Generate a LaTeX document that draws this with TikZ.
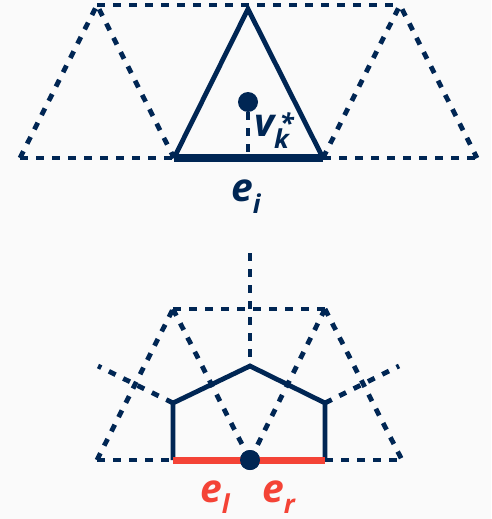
\documentclass[tikz,border=0pt]{standalone}
\usepackage{fontspec}
\setmainfont{Open Sans}
\definecolor{navy}{RGB}{0,38,84}
\definecolor{redl}{RGB}{244,67,54}
\definecolor{bg}{RGB}{250,250,250}
\newcommand{\sbs}[1]{\raisebox{-12pt}{\fontsize{26}{26}\selectfont #1}}
\newcommand{\sps}[1]{\raisebox{3.4pt}{\fontsize{26}{26}\selectfont #1}}
\begin{document}
\begin{tikzpicture}[x=1pt,y=-1pt,
  dsh/.style={navy,line width=4.8pt,dash pattern=on 7.5pt off 8.5pt},
  sol/.style={navy,line width=4.8pt,line join=miter},
  dotn/.style={circle,fill=navy,inner sep=0pt,minimum size=20pt},
  big/.style={inner sep=0pt,anchor=base west,font=\fontsize{39}{39}\selectfont\bfseries\itshape}]
\fill[bg] (0,0) rectangle (491,519);
\useasboundingbox (0,0) rectangle (491,519);
% ---------- top figure ----------
\coordinate (TL) at (97,5);
\coordinate (TR) at (400,5);
\coordinate (TC) at (248,9);
\coordinate (B1) at (20,158);
\coordinate (B2) at (174,158);
\coordinate (B3) at (323,158);
\coordinate (B4) at (477,158);
\draw[dsh] (TL) -- (TR);
\draw[dsh] (B1) -- (B2);
\draw[dsh] (B3) -- (B4);
\draw[dsh] (B1) -- (TL) -- (B2);
\draw[dsh] (B3) -- (TR) -- (B4);
\node[dotn] (vk) at (248,102) {};
\coordinate (vb) at (248,158);
\draw[dsh] (vk) -- (vb);
\draw[sol] (B2) -- (TC) -- (B3);
\draw[navy,line width=8pt] (B2) -- (B3);
\node[big,navy] (v) at (254,136) {v\rlap{\kern5.5pt\sps{*}}\sbs{k}};
\node[big,navy] (e) at (231,201) {e\sbs{i}};
% ---------- bottom figure ----------
\coordinate (V) at (250,253);
\coordinate (P) at (250,366);
\coordinate (Q1) at (173,309);
\coordinate (Q2) at (325,309);
\coordinate (L) at (173,403);
\coordinate (R) at (325,403);
\coordinate (LL) at (98,366);
\coordinate (RR) at (399,366);
\coordinate (C1) at (97,460);
\coordinate (C2) at (173,460);
\coordinate (C4) at (325,460);
\coordinate (C5) at (402,460);
\draw[dsh] (V) -- (P);
\draw[dsh] (Q1) -- (Q2);
\draw[dsh] (C1) -- (C2);
\draw[dsh] (C4) -- (C5);
\draw[dsh] (C1) -- (Q1);
\draw[dsh] (Q2) -- (C5);
\node[dotn] (m) at (250,460) {};
\draw[dsh] (Q1) -- (m);
\draw[dsh] (Q2) -- (m);
\draw[dsh] (L) -- (LL);
\draw[dsh] (R) -- (RR);
\draw[sol] (C2) -- (L) -- (P) -- (R) -- (C4);
\draw[redl,line width=7pt] (C2) -- (m.center) -- (C4);
\node[dotn] at (m) {};
\node[big,redl] (el) at (200,502) {e\raisebox{-11pt}{\fontsize{26}{26}\selectfont l}};
\node[big,redl] (er) at (262,502) {e\raisebox{-11pt}{\fontsize{26}{26}\selectfont r}};
\end{tikzpicture}
\end{document}
